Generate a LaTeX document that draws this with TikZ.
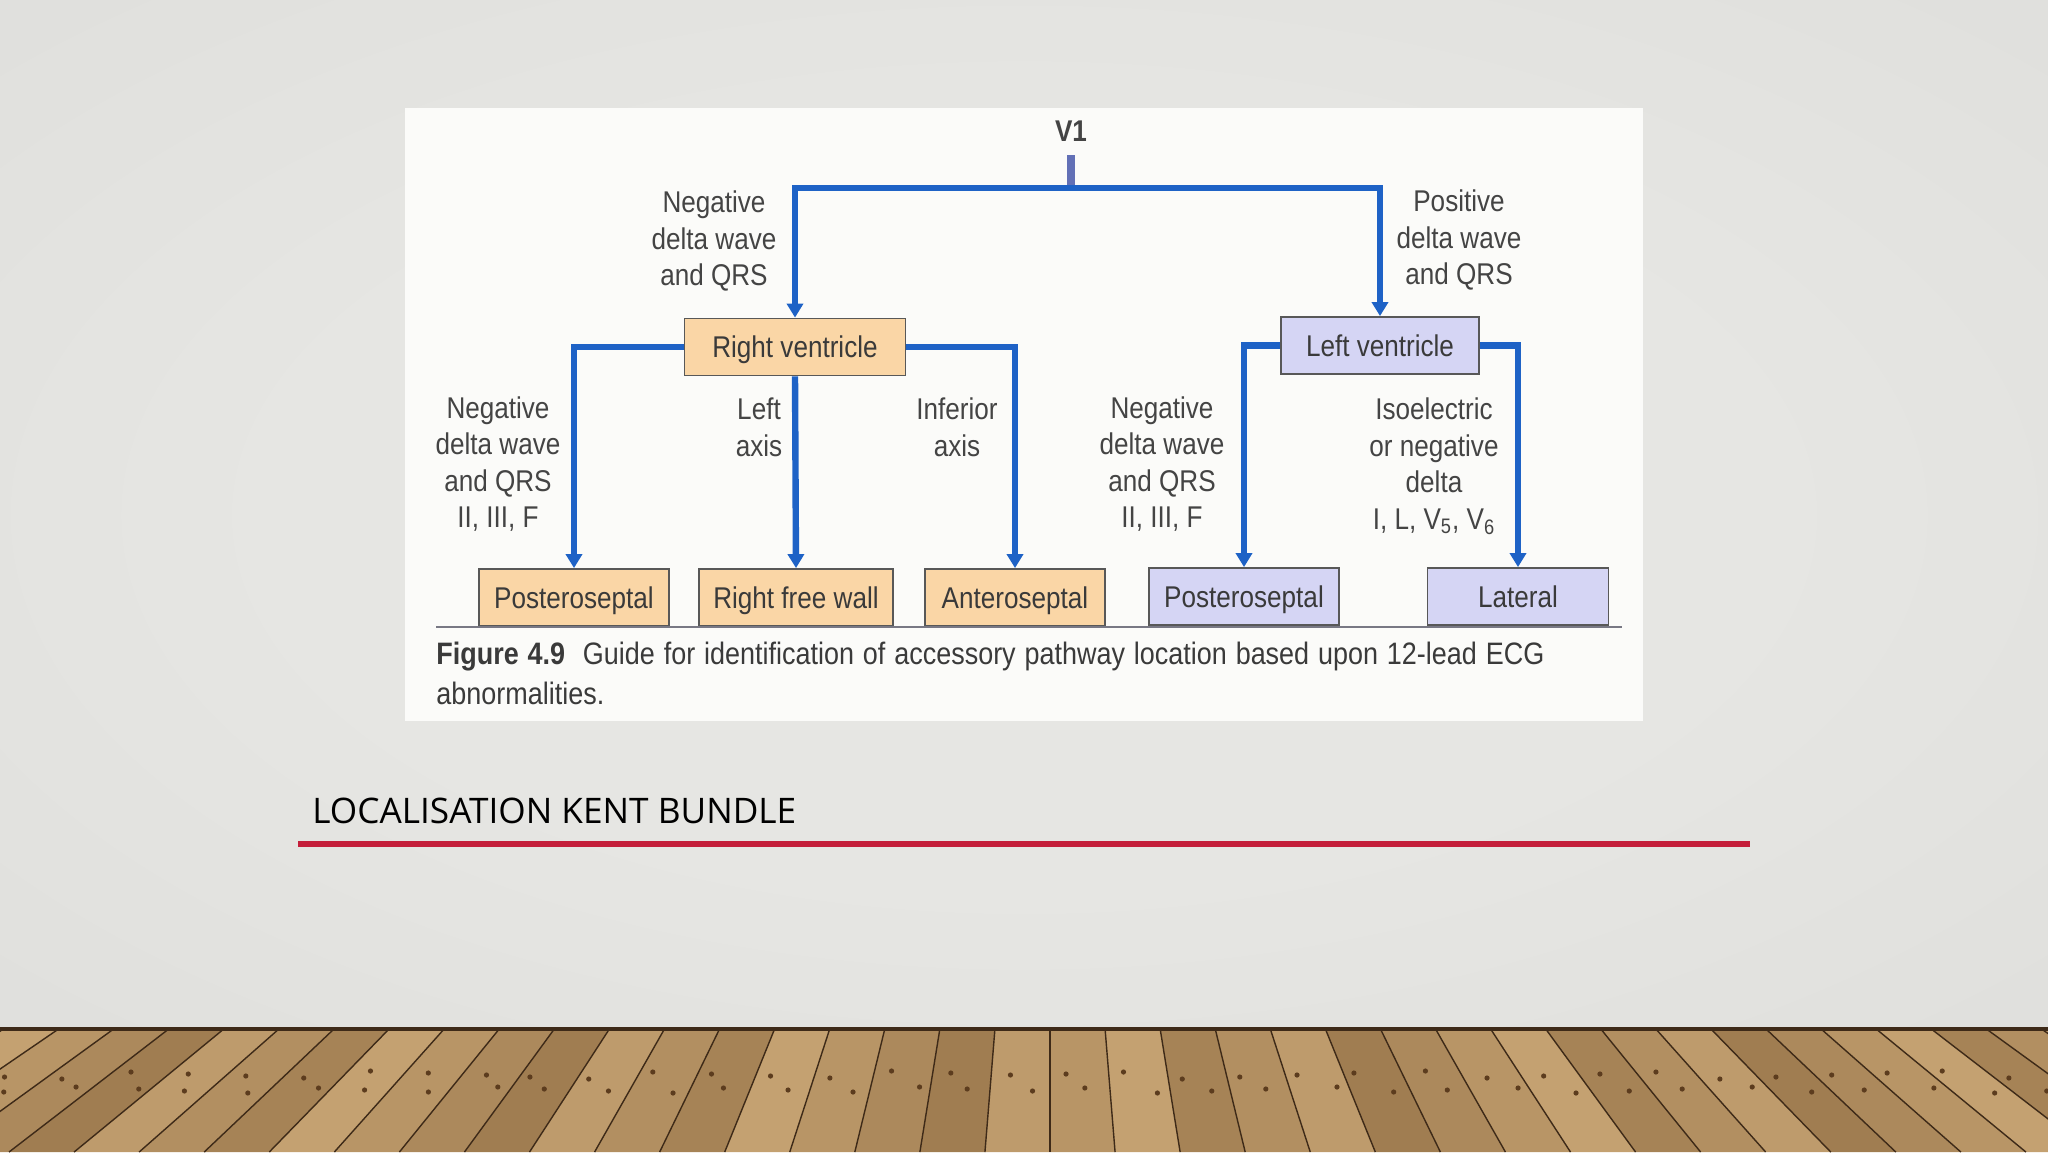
\documentclass[tikz,border=0pt]{standalone}
\usepackage{fontspec}
\setmainfont{Liberation Sans}
\newfontfamily\dfont[FakeStretch=0.87]{Liberation Sans}
\newfontfamily\tfont{Open Sans}
\usetikzlibrary{arrows.meta}
\definecolor{bgin}{RGB}{230,230,227}
\definecolor{bgmid}{RGB}{220,220,217}
\definecolor{bgout}{RGB}{198,198,195}
\definecolor{panel}{RGB}{251,251,249}
\definecolor{connblue}{RGB}{30,98,198}
\definecolor{stubblue}{RGB}{98,112,182}
\definecolor{peach}{RGB}{250,214,166}
\definecolor{lav}{RGB}{213,213,244}
\definecolor{boxborder}{RGB}{88,88,88}
\definecolor{lbltext}{RGB}{68,68,68}
\definecolor{captext}{RGB}{58,58,58}
\definecolor{rulegray}{RGB}{120,120,132}
\definecolor{titlered}{RGB}{196,30,58}
\definecolor{woodlight}{RGB}{206,172,122}
\definecolor{wooddark}{RGB}{132,96,56}
\definecolor{seamcol}{RGB}{62,42,24}
\definecolor{knotcol}{RGB}{92,60,30}
\pgfdeclareradialshading{vign}{\pgfpoint{0bp}{0bp}}{color(0bp)=(bgin); color(18bp)=(bgin); color(45bp)=(bgmid); color(71bp)=(bgout)}
\tikzset{
  conn/.style={draw=connblue, line width=3.2pt, -{Triangle[width=8pt,length=7pt]}},
  lbl/.style={font=\dfont\fontsize{15}{18.3}\selectfont, text=lbltext, align=center, inner sep=0pt},
  boxo/.style={draw=boxborder, line width=0.9pt, fill=peach, minimum height=28.5pt, inner sep=0pt, text height=12.5pt, text depth=2pt, font=\dfont\fontsize{15}{18}\selectfont, text=captext},
  boxl/.style={boxo, fill=lav},
  seam/.style={draw=seamcol, line width=0.7pt},
}
\begin{document}
\begin{tikzpicture}[x=0.5pt,y=-0.5pt]
\useasboundingbox (0,0) rectangle (2048,1152);
% background
\fill[bgmid] (0,0) rectangle (2048,1030);
\shade[shading=vign] (0,0) rectangle (2048,1030);
% floor
\begin{scope}
\clip (0,1028) rectangle (2048,1152);
\fill[wooddark] (0,1028) rectangle (2048,1152);
\foreach \i in {-24,...,22}{
  \pgfmathsetmacro{\xa}{1050+55*\i}
  \pgfmathsetmacro{\xb}{1050+55*(\i+1)}
  \pgfmathsetmacro{\xc}{1050+65.06*(\i+1)}
  \pgfmathsetmacro{\xd}{1050+65.06*\i}
  \pgfmathtruncatemacro{\m}{mod(abs(\i*37+11),7)*8+38}
  \fill[woodlight!\m!wooddark] (\xa,1028) -- (\xb,1028) -- (\xc,1152) -- (\xd,1152) -- cycle;
  \draw[seam] (\xa,1028) -- (\xd,1152);
  \pgfmathsetmacro{\ya}{1071+mod(abs(\i*7+3),9)}
  \pgfmathsetmacro{\yb}{1087+mod(abs(\i*5+1),7)}
  \pgfmathsetmacro{\fa}{(\ya-350)/678}
  \pgfmathsetmacro{\fb}{(\yb-350)/678}
  \pgfmathsetmacro{\ka}{1050+\fa*(55*\i+10+mod(abs(\i*13+5),14))}
  \pgfmathsetmacro{\kb}{1050+\fb*(55*\i+30+mod(abs(\i*11+2),16))}
  \fill[knotcol] (\ka,\ya) circle (2.6);
  \fill[knotcol] (\kb,\yb) circle (2.6);
}
\end{scope}
\draw[seamcol, line width=1.6pt] (0,1029) -- (2048,1029);
% panel
\fill[panel] (405,108) rectangle (1643,721);
% V1
\node[font=\dfont\bfseries\fontsize{15}{18}\selectfont, text=lbltext] (v1) at (1071,131) {V1};
\coordinate (stubtop) at (1071,155);
\coordinate (split) at (1071,188);
% boxes
\node[boxo, minimum width=110.5pt] (rv) at (795,347) {Right ventricle};
\node[boxl, minimum width=99pt] (lv) at (1380,345.5) {Left ventricle};
\node[boxo, minimum width=95pt] (ps1) at (574,597.5) {Posteroseptal};
\node[boxo, minimum width=97pt] (rfw) at (796,597.5) {Right free wall};
\node[boxo, minimum width=90pt] (as) at (1015,597.5) {Anteroseptal};
\node[boxl, minimum width=95pt] (ps2) at (1244,596.5) {Posteroseptal};
\node[boxl, minimum width=90.5pt] (lat) at (1518,596.5) {Lateral};
% baseline rule
\coordinate (ruleL) at (436,627);
\coordinate (ruleR) at (1622,627);
\draw[rulegray, line width=1pt] (ruleL) -- (ruleR);
% connectors
\draw[stubblue, line width=4pt] (stubtop) -- (split);
\draw[conn] (split) -| (rv.north);
\draw[conn] (split) -| (lv.north);
\draw[conn] (rv.west) -| (ps1.north);
\draw[conn] (rv.south) -- (rfw.north);
\draw[conn] (rv.east) -| (as.north);
\draw[conn] (lv.west) -| (ps2.north);
\draw[conn] (lv.east) -| (lat.north);
% labels
\node[lbl] (l1) at (714,241) {Negative\\delta wave\\and QRS};
\node[lbl] (l2) at (1459,240) {Positive\\delta wave\\and QRS};
\node[lbl] (l3) at (498,464) {Negative\\delta wave\\and QRS\\II, III, F};
\node[lbl] (l4) at (759,427) {Left\\axis};
\node[lbl] (l5) at (957,427) {Inferior\\axis};
\node[lbl] (l6) at (1162,464) {Negative\\delta wave\\and QRS\\II, III, F};
\node[lbl] (l7) at (1434,466) {Isoelectric\\or negative\\delta\\I, L, V\textsubscript{5}, V\textsubscript{6}};
% caption
\node[anchor=base west, inner sep=0pt, font=\dfont\fontsize{15.5}{20}\selectfont, text=captext] (cap1) at (436,664) {\makebox[554pt][s]{\textbf{Figure 4.9}\ \ Guide for identification of accessory pathway location based upon 12-lead ECG}};
\node[anchor=base west, inner sep=0pt, font=\dfont\fontsize{15.5}{20}\selectfont, text=captext] (cap2) at (436,704) {abnormalities.};
% title
\node[anchor=west, inner sep=0pt, font=\tfont\fontsize{17.6}{20}\selectfont, text=black] (title) at (312,811) {LOCALISATION KENT BUNDLE};
\coordinate (redL) at (298,844);
\coordinate (redR) at (1750,844);
\draw[titlered, line width=2.6pt] (redL) -- (redR);
\end{tikzpicture}
\end{document}
